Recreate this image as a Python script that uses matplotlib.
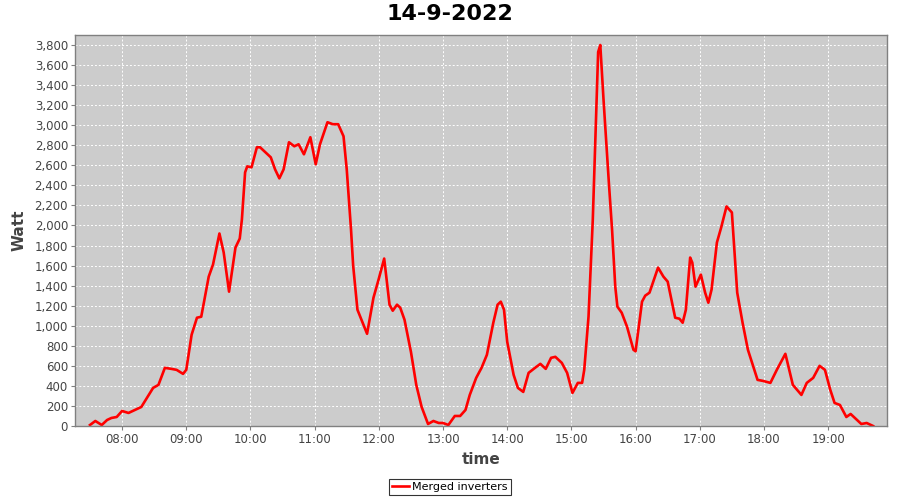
import matplotlib
matplotlib.use("Agg")
import matplotlib.pyplot as plt
from matplotlib.ticker import FuncFormatter, FixedLocator

title = "14-9-2022"
series_name = "Merged inverters"

times = ["07:30", "07:35", "07:41", "07:46", "07:50", "07:55", "08:00", "08:06", "08:12", "08:18",
         "08:25", "08:29", "08:34", "08:40", "08:46", "08:51", "08:57", "09:00", "09:05", "09:10",
         "09:14", "09:21", "09:25", "09:31", "09:35", "09:40", "09:46", "09:50", "09:52", "09:55",
         "09:57", "10:01", "10:06", "10:09", "10:14", "10:19", "10:23", "10:27", "10:31", "10:36",
         "10:41", "10:45", "10:50", "10:56", "11:01", "11:05", "11:12", "11:17", "11:22", "11:27",
         "11:30", "11:34", "11:36", "11:40", "11:49", "11:55", "12:00", "12:05", "12:10", "12:13",
         "12:17", "12:20", "12:24", "12:30", "12:35", "12:40", "12:46", "12:51", "12:56", "13:00",
         "13:05", "13:11", "13:16", "13:21", "13:25", "13:31", "13:36", "13:41", "13:47", "13:51",
         "13:54", "13:57", "14:00", "14:06", "14:10", "14:15", "14:20", "14:26", "14:31", "14:36",
         "14:41", "14:45", "14:51", "14:56", "15:01", "15:06", "15:10", "15:12", "15:16", "15:20",
         "15:25", "15:27", "15:30", "15:35", "15:38", "15:41", "15:43", "15:47", "15:52", "15:58",
         "16:00", "16:06", "16:09", "16:13", "16:21", "16:26", "16:30", "16:37", "16:41", "16:44",
         "16:47", "16:51", "16:53", "16:56", "17:01", "17:05", "17:08", "17:11", "17:16", "17:20",
         "17:25", "17:30", "17:35", "17:40", "17:45", "17:54", "17:59", "18:06", "18:12", "18:20",
         "18:27", "18:31", "18:35", "18:40", "18:46", "18:52", "18:57", "19:02", "19:06", "19:11",
         "19:17", "19:21", "19:27", "19:31", "19:36", "19:42"]

watts = [10, 50, 10, 60, 80, 90, 150, 130, 160, 190,
         310, 380, 410, 580, 570, 560, 520, 560, 910, 1080,
         1090, 1490, 1610, 1920, 1730, 1340, 1780, 1870, 2060, 2530,
         2590, 2580, 2780, 2780, 2730, 2680, 2560, 2470, 2560, 2830,
         2790, 2810, 2710, 2880, 2610, 2810, 3030, 3010, 3010, 2890,
         2560, 1960, 1600, 1160, 920, 1280, 1470, 1670, 1210, 1150,
         1210, 1180, 1060, 740, 410, 190, 20, 50, 30, 30,
         10, 100, 100, 160, 310, 480, 580, 710, 1030, 1210,
         1240, 1160, 840, 510, 380, 340, 530, 580, 620, 570,
         680, 690, 630, 530, 330, 430, 430, 560, 1090, 2060,
         3730, 3800, 3260, 2430, 1960, 1390, 1190, 1130, 990, 760,
         745, 1240, 1300, 1330, 1580, 1490, 1440, 1080, 1070, 1030,
         1160, 1680, 1630, 1390, 1510, 1330, 1230, 1360, 1830, 1980,
         2190, 2130, 1330, 1030, 760, 460, 450, 430, 560, 720,
         410, 360, 310, 430, 480, 600, 560, 360, 230, 210,
         90, 120, 60, 20, 30, 0]

hour_ticks = ["08:00", "09:00", "10:00", "11:00", "12:00", "13:00",
              "14:00", "15:00", "16:00", "17:00", "18:00", "19:00"]


def to_hours(s):
    h, m = s.split(":")
    return int(h) + int(m) / 60.0


x = [to_hours(t) for t in times]

fig = plt.figure(figsize=(9, 5), dpi=100)
fig.patch.set_facecolor("white")
ax = fig.add_axes([75 / 900, 1 - 426 / 500, (887 - 75) / 900, (426 - 35) / 500])
ax.set_facecolor("#cccccc")

line, = ax.plot(x, watts, color="#ff0000", linewidth=1.9, label=series_name,
                solid_joinstyle="round")

ax.set_xlim(to_hours("07:16"), to_hours("19:55"))
ax.set_ylim(0, 3900)

ax.xaxis.set_major_locator(FixedLocator([to_hours(t) for t in hour_ticks]))
ax.set_xticklabels(hour_ticks)
ax.set_yticks(range(0, 3801, 200))
ax.yaxis.set_major_formatter(FuncFormatter(lambda v, p: f"{int(v):,}"))

ax.grid(True, color="white", linestyle=(0, (2, 2)), linewidth=0.7)
ax.set_axisbelow(True)

for s in ax.spines.values():
    s.set_color("#808080")
    s.set_linewidth(1.0)

ax.tick_params(axis="both", labelsize=8.5, colors="#444444", length=3, width=0.8,
               direction="out", pad=2)
ax.tick_params(axis="both", color="#808080")

ax.set_xlabel("time", fontsize=11, fontweight="bold", color="#444444", labelpad=4)
ax.set_ylabel("Watt", fontsize=11, fontweight="bold", color="#444444", labelpad=6)

fig.suptitle(title, x=0.5, y=0.993, fontsize=16, fontweight="bold", va="top")

leg = fig.legend(handles=[line], loc="center", bbox_to_anchor=(0.5, 1 - 487 / 500),
                 frameon=True, fancybox=False, fontsize=8, handlelength=1.5,
                 handletextpad=0.3, borderpad=0.3)
leg.get_frame().set_edgecolor("black")
leg.get_frame().set_linewidth(0.8)

fig.savefig("out.png", dpi=100)
